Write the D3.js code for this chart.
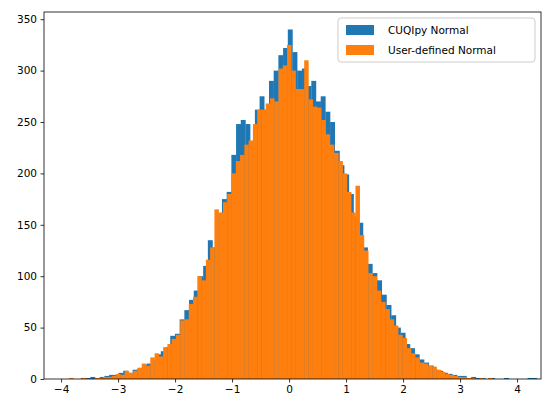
<!DOCTYPE html>
<html><head><meta charset="utf-8">
<script src="https://cdn.jsdelivr.net/npm/d3@7"></script>
<style>body{margin:0;background:#fff}text{font-family:"DejaVu Sans",sans-serif}</style>
</head><body><svg id="c" width="552" height="413"></svg>
<script>
const blueStart = -3.9, blueWidth = 0.0825;
const blueCounts = [0,0,0,1,1,2,1,2,3,4,4,6,8,6,9,10,14,15,18,24,27,31,42,44,58,67,77,86,100,110,135,128,160,175,182,218,248,252,248,230,262,275,262,290,300,315,322,340,318,300,302,285,290,270,275,260,250,222,208,199,180,158,152,128,112,103,96,82,72,62,50,45,34,30,24,19,16,13,9,8,6,5,4,3,3,1,2,1,1,0,1,0,0,1,0,0,0,0,1,1];
const orangeStart = -3.86, orangeWidth = 0.075;
const orangeCounts = [1,0,0,1,0,0,1,1,2,2,3,5,4,8,6,8,11,15,13,21,25,22,31,34,39,43,57,58,73,80,100,96,116,128,165,162,172,180,200,212,218,228,232,248,262,262,268,273,270,302,305,325,300,282,282,310,272,265,264,252,238,228,220,212,200,182,162,188,140,125,103,100,86,75,68,58,52,43,40,30,25,21,16,15,13,12,9,7,5,4,3,2,2,1,1,0,1,0,1,0];
const xTicks = [-4,-3,-2,-1,0,1,2,3,4];
const yTicks = [0,50,100,150,200,250,300,350];
const series = [
  {name:"CUQIpy Normal", color:"#1f77b4", start:blueStart, w:blueWidth, counts:blueCounts},
  {name:"User-defined Normal", color:"#ff7f0e", start:orangeStart, w:orangeWidth, counts:orangeCounts}
];
const L=44,R=541,T=12,B=379;
const x=d3.scaleLinear().domain([-4.3,4.42]).range([L,R]);
const y=d3.scaleLinear().domain([0,357]).range([B,T]);
const svg=d3.select("#c");
series.forEach(s=>{
  svg.append("g").selectAll("rect").data(s.counts).join("rect")
    .attr("x",(d,i)=>x(s.start+i*s.w))
    .attr("width",(d,i)=>x(s.start+(i+1)*s.w)-x(s.start+i*s.w)+0.2)
    .attr("y",d=>y(d)).attr("height",d=>B-y(d)).attr("fill",s.color);
});
const gx=svg.append("g").attr("transform",`translate(0,${B})`).call(d3.axisBottom(x).tickValues(xTicks).tickSize(3.5).tickPadding(3.5).tickFormat(d=>d<0?"−"+(-d):d));
const gy=svg.append("g").attr("transform",`translate(${L},0)`).call(d3.axisLeft(y).tickValues(yTicks).tickSize(3.5).tickPadding(3.5));
[gx,gy].forEach(g=>{g.select(".domain").remove();g.selectAll("text").attr("font-size",10.5).attr("fill","#000").style("font-family","DejaVu Sans");g.selectAll("line").attr("stroke","#000").attr("stroke-width",0.8);});
svg.append("rect").attr("x",L).attr("y",T).attr("width",R-L).attr("height",B-T).attr("fill","none").attr("stroke","#000").attr("stroke-width",0.8);
const lg=svg.append("g");
lg.append("rect").attr("x",338).attr("y",18).attr("width",197).attr("height",44).attr("rx",3).attr("fill","#fff").attr("fill-opacity",0.8).attr("stroke","#ccc");
series.forEach((s,i)=>{
  lg.append("rect").attr("x",346).attr("y",25+i*20).attr("width",28).attr("height",10).attr("fill",s.color);
  lg.append("text").attr("x",388).attr("y",34+i*20).attr("font-size",10.5).text(s.name);
});
</script></body></html>
